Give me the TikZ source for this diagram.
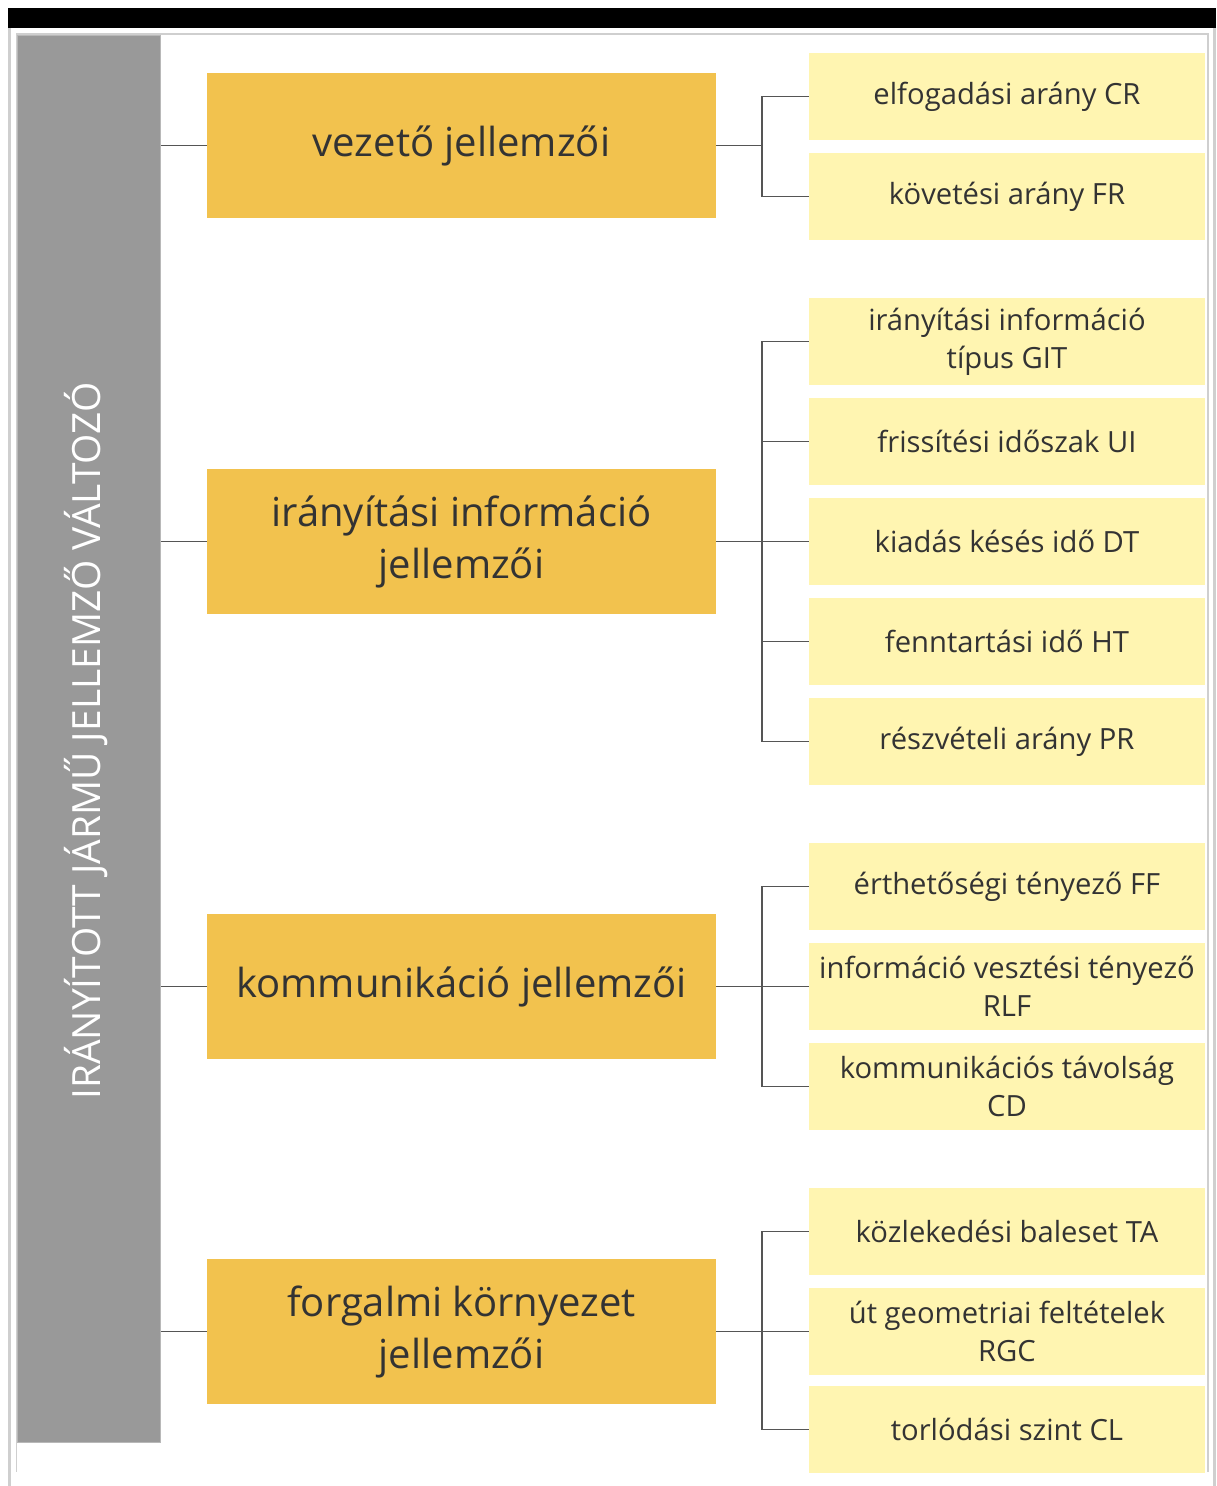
\documentclass[tikz,border=0pt]{standalone}
\usepackage{fontspec}
\setmainfont{Open Sans}
\definecolor{orangebox}{HTML}{F2C24E}
\definecolor{yellowbox}{HTML}{FFF5B1}
\definecolor{txt}{HTML}{333333}
\definecolor{barfill}{HTML}{999999}
\definecolor{barline}{HTML}{B8B8B8}
\definecolor{frameline}{HTML}{CFCFCF}
\definecolor{conn}{HTML}{555555}
\begin{document}
\begin{tikzpicture}[x=1pt,y=-1pt,
  obox/.style={fill=orangebox, draw=none, minimum width=509pt, minimum height=145pt,
    inner sep=0pt, align=center, text=txt, font=\fontsize{40}{52}\selectfont},
  ybox/.style={fill=yellowbox, draw=none, minimum width=396pt, minimum height=87pt,
    inner sep=0pt, align=center, text=txt, font=\fontsize{29.2}{38}\selectfont},
  link/.style={draw=conn, line width=1.5pt}]
\useasboundingbox (0,0) rectangle (1216,1486);
% frame
\fill[black] (8,8) rectangle (1216,28);
\fill[frameline] (8,28) rectangle (11,1486);
\fill[frameline] (1213,28) rectangle (1216,1486);
\fill[frameline] (15.5,33) rectangle (1208.5,35);
\fill[frameline] (15.5,33) rectangle (17,1472);
\fill[frameline] (1207,33) rectangle (1208.5,1472);
% gray bar
\node[fill=barfill, draw=barline, line width=1pt, minimum width=143pt, minimum height=1407pt, inner sep=0pt]
  (bar) at (89,739) {};
\node[rotate=90, text=white, font=\fontsize{38.9}{40}\selectfont] (bartxt) at (86,741)
  {IRÁNYÍTOTT JÁRMŰ JELLEMZŐ VÁLTOZÓ};
% orange boxes
\node[obox] (o1) at (461.5,145.5) {vezető jellemzői};
\node[obox] (o2) at (461.5,541.5) {irányítási információ\\jellemzői};
\node[obox] (o3) at (461.5,986.5) {kommunikáció jellemzői};
\node[obox] (o4) at (461.5,1331.5) {forgalmi környezet\\jellemzői};
% yellow boxes
\node[ybox] (y11) at (1007,96.5) {elfogadási arány CR};
\node[ybox] (y12) at (1007,196.5) {követési arány FR};
\node[ybox] (y21) at (1007,341.5) {irányítási információ\\típus GIT};
\node[ybox] (y22) at (1007,441.5) {frissítési időszak UI};
\node[ybox] (y23) at (1007,541.5) {kiadás késés idő DT};
\node[ybox] (y24) at (1007,641.5) {fenntartási idő HT};
\node[ybox] (y25) at (1007,741.5) {részvételi arány PR};
\node[ybox] (y31) at (1007,886.5) {érthetőségi tényező FF};
\node[ybox] (y32) at (1007,986.5) {információ vesztési tényező\\RLF};
\node[ybox] (y33) at (1007,1086.5) {kommunikációs távolság\\CD};
\node[ybox] (y41) at (1007,1231.5) {közlekedési baleset TA};
\node[ybox] (y42) at (1007,1331.5) {út geometriai feltételek\\RGC};
\node[ybox] (y43) at (1007,1429.5) {torlódási szint CL};
% left links
\foreach \o in {o1,o2,o3,o4} \draw[link] (bar.east |- \o.west) -- (\o.west);
% branch coordinates
\coordinate (b1) at (762,145.5);
\coordinate (b2) at (762,541.5);
\coordinate (b3) at (762,986.5);
\coordinate (b4) at (762,1331.5);
\draw[link] (o1.east) -- (b1);
\draw[link] (o2.east) -- (b2);
\draw[link] (o3.east) -- (b3);
\draw[link] (o4.east) -- (b4);
\foreach \y in {y11,y12} \draw[link] (b1) |- (\y.west);
\foreach \y in {y21,y22,y23,y24,y25} \draw[link] (b2) |- (\y.west);
\foreach \y in {y31,y32,y33} \draw[link] (b3) |- (\y.west);
\foreach \y in {y41,y42,y43} \draw[link] (b4) |- (\y.west);
\end{tikzpicture}
\end{document}
